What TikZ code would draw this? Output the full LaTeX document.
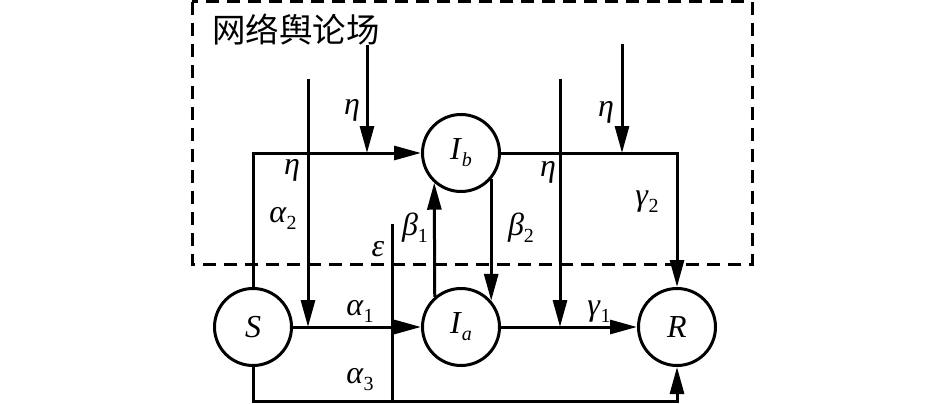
\documentclass[tikz,border=0pt]{standalone}
\usepackage{fontspec}
\setmainfont{Liberation Serif}
\newfontfamily\cjk{Noto Sans CJK SC}
\usetikzlibrary{arrows.meta}
\newcommand{\sy}[2]{\textit{#1}\raisebox{-7pt}{\fontsize{20}{20}\selectfont #2}}
\begin{document}
\begin{tikzpicture}[x=1pt,y=-1pt,
  st/.style={circle,draw,line width=3pt,minimum size=77pt,inner sep=0pt,font=\fontsize{32}{32}\selectfont},
  ln/.style={line width=3pt},
  ar/.style={ln,-{Triangle[length=27pt,width=14pt]}},
  lb/.style={font=\fontsize{32}{32}\selectfont,inner sep=0pt},
  frame/.style={line width=3pt,dash pattern=on 13pt off 8pt}]
\useasboundingbox (0,0) rectangle (945,404);
% frame
\draw[frame] (192,2) rectangle (752,264);
\node[anchor=west,inner sep=0pt,font=\cjk\fontsize{33.5}{33.5}\selectfont] (title) at (212,30) {网络舆论场};
% states
\node[st] (S) at (253,327) {\textit{S}};
\node[st] (Ia) at (461,327) {\sy{I}{\textit{a}}};
\node[st] (Ib) at (461,153) {\sy{I}{\textit{b}}};
\node[st] (R) at (677,327) {\textit{R}};
% coordinates
\coordinate (e1t) at (367,45);
\coordinate (e1b) at (367,153);
\coordinate (e2t) at (308,79);
\coordinate (e2b) at (308,327);
\coordinate (ept) at (392,224);
\coordinate (epb) at (392,401);
\coordinate (bot) at (253,401);
\coordinate (e3t) at (560,79);
\coordinate (e3b) at (560,327);
\coordinate (e4t) at (622,44);
\coordinate (e4b) at (622,153);
% connectors
\draw[ar] (S.north) |- (Ib.west);
\draw[ar] (e1t) -- (e1b);
\draw[ar] (e2t) -- (e2b);
\draw[ar] (S) -- (Ia);
\draw[ln] (ept) -- (epb);
\draw[ar] (S.south) -- (bot) -| (R.south);
\draw[ar] (Ia.131.8) -- (Ib.228.2);
\draw[ar] (Ib.-41.96) -- (Ia.41.96);
\draw[ar] (e3t) -- (e3b);
\draw[ar] (Ib.east) -| (R.north);
\draw[ar] (e4t) -- (e4b);
\draw[ar] (Ia) -- (R);
% labels
\node[lb] (l1) at (352,110) {\textit{η}};
\node[lb] (l2) at (292,170) {\textit{η}};
\node[lb] (l3) at (283,218) {\sy{α}{2}};
\node[lb] (l4) at (378,249) {\textit{ε}};
\node[lb] (l5) at (415,228) {\sy{β}{1}};
\node[lb] (l6) at (521,228) {\sy{β}{2}};
\node[lb] (l7) at (548,172) {\textit{η}};
\node[lb] (l8) at (606,112) {\textit{η}};
\node[lb] (l9) at (647,202) {\sy{γ}{2}};
\node[lb] (l10) at (599,312) {\sy{γ}{1}};
\node[lb] (l11) at (360,311) {\sy{α}{1}};
\node[lb] (l12) at (360,380) {\sy{α}{3}};
\end{tikzpicture}
\end{document}
